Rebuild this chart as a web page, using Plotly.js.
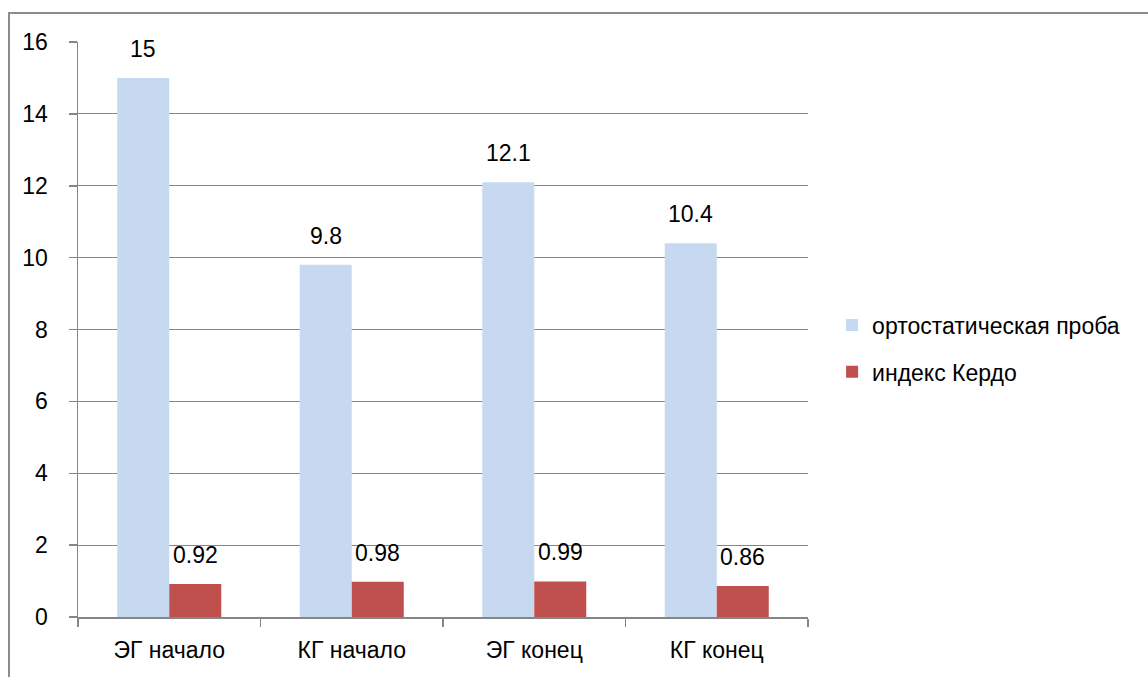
<!DOCTYPE html>
<html>
<head>
<meta charset="utf-8">
<script src="https://cdn.plot.ly/plotly-3.0.1.min.js"></script>
<style>
  html, body { margin: 0; padding: 0; background: #fff; }
  #frame { position: absolute; left: 8px; top: 12px; width: 1200px; height: 720px;
           border: 2px solid #8c8c8c; box-sizing: border-box; }
  #chart { position: absolute; left: 0; top: 0; width: 1148px; height: 677px; }
</style>
</head>
<body>
<div id="frame"></div>
<div id="chart"></div>
<script>
// Groups and the two measured indicators
const categories = ['ЭГ начало', 'КГ начало', 'ЭГ конец', 'КГ конец'];
const orthoValues = [15, 9.8, 12.1, 10.4];
const kerdoValues = [0.92, 0.98, 0.99, 0.86];
const orthoLabels = ['15', '9.8', '12.1', '10.4'];
const kerdoLabels = ['0.92', '0.98', '0.99', '0.86'];
const seriesNames = ['ортостатическая проба', 'индекс Кердо'];
const yTicks = [0, 2, 4, 6, 8, 10, 12, 14, 16];

const FONT = 'Liberation Sans, Arial, sans-serif';
const FS = 23;
const gridColor = '#868686';

const traces = [
  {
    type: 'bar', name: seriesNames[0], x: categories, y: orthoValues,
    marker: { color: '#C6D9F1' }, legendgroup: 'a', hoverinfo: 'skip'
  },
  {
    type: 'bar', name: seriesNames[1], x: categories, y: kerdoValues,
    marker: { color: '#C0504D' }, legendgroup: 'b', hoverinfo: 'skip'
  }
];

// Value labels sit above each bar, shifted to its half of the group
const annotations = [];
categories.forEach((c, i) => {
  annotations.push({ x: c, y: orthoValues[i], xref: 'x', yref: 'y', text: orthoLabels[i],
    showarrow: false, xshift: -26, yshift: 14, yanchor: 'bottom',
    font: { family: FONT, size: FS, color: '#000' } });
  annotations.push({ x: c, y: kerdoValues[i], xref: 'x', yref: 'y', text: kerdoLabels[i],
    showarrow: false, xshift: 26, yshift: 14, yanchor: 'bottom',
    font: { family: FONT, size: FS, color: '#000' } });
});

const layout = {
  width: 1148, height: 677,
  margin: { l: 78, r: 340, t: 42, b: 60 },
  paper_bgcolor: 'rgba(0,0,0,0)', plot_bgcolor: 'rgba(0,0,0,0)',
  barmode: 'group', bargap: 0.43, bargroupgap: 0,
  font: { family: FONT, size: FS, color: '#000' },
  showlegend: true,
  legend: {
    x: 1.033, xanchor: 'left', xref: 'paper', y: 0.467, yanchor: 'middle',
    font: { family: FONT, size: FS, color: '#000' },
    tracegroupgap: 14, itemwidth: 30, bgcolor: 'rgba(0,0,0,0)',
    traceorder: 'grouped'
  },
  xaxis: {
    type: 'category', tickson: 'boundaries', ticks: 'outside', ticklen: 8,
    tickcolor: gridColor, tickwidth: 1.5,
    showline: true, linecolor: gridColor, linewidth: 1.5,
    showgrid: false, ticklabelstandoff: 12,
    tickfont: { family: FONT, size: FS, color: '#000' }
  },
  yaxis: {
    range: [0, 16], tickvals: yTicks, ticktext: yTicks.map(String),
    ticks: 'outside', ticklen: 8, tickcolor: gridColor, tickwidth: 1.5,
    showline: true, linecolor: gridColor, linewidth: 1.5,
    showgrid: true, gridcolor: gridColor, gridwidth: 1.2,
    zeroline: false, ticklabelstandoff: 16,
    tickfont: { family: FONT, size: FS, color: '#000' }
  },
  annotations: annotations
};

Plotly.newPlot('chart', traces, layout, { staticPlot: true, displayModeBar: false });
</script>
</body>
</html>
